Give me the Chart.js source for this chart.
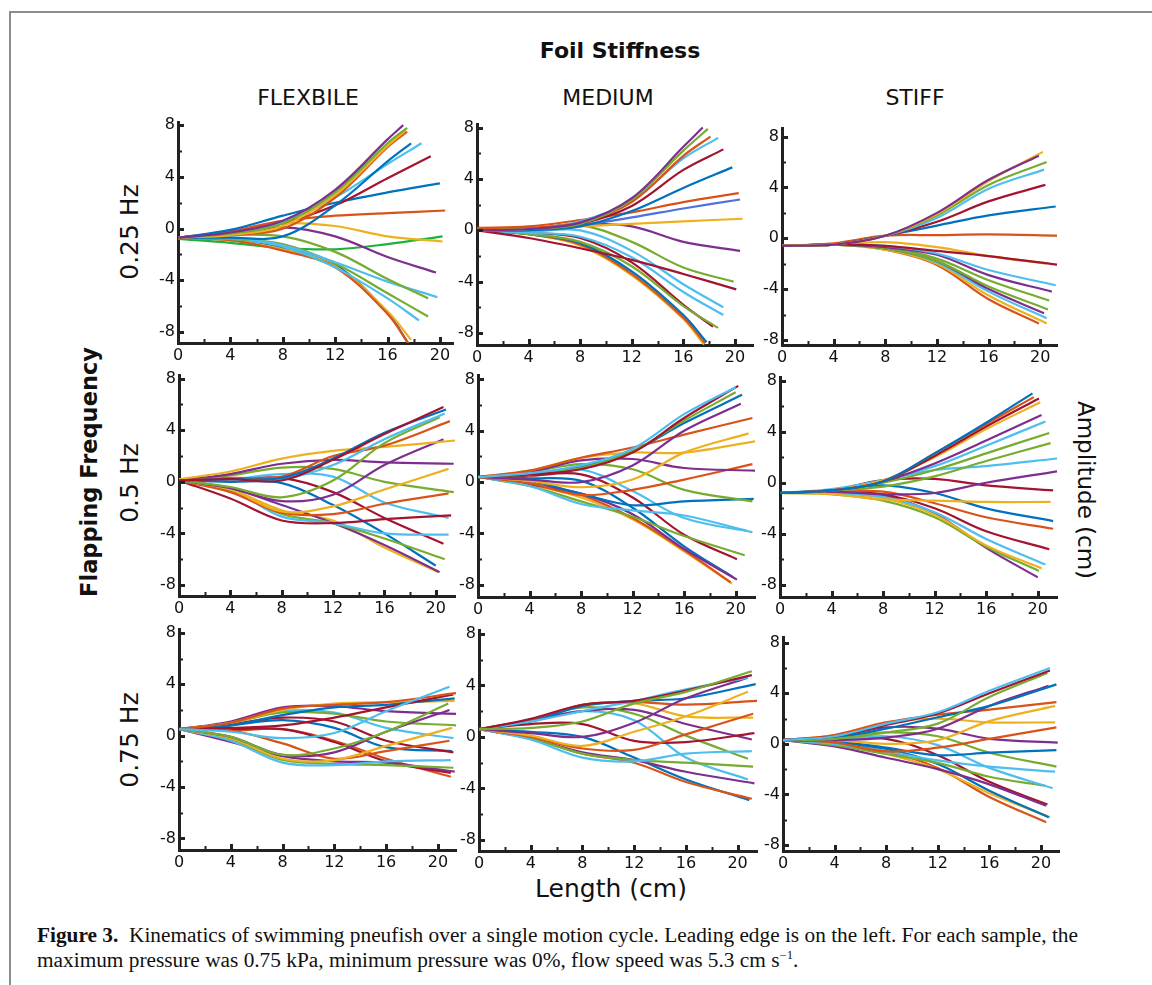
<!DOCTYPE html>
<html>
<head>
<meta charset="utf-8">
<title>Figure 3 - pneufish kinematics</title>
<script src="https://cdn.jsdelivr.net/npm/chart.js@4.4.1/dist/chart.umd.min.js"></script>
<style>
  html, body { margin: 0; padding: 0; background: #fff; }
  #page { position: relative; width: 1152px; height: 985px; overflow: hidden;
          font-family: "DejaVu Sans", Verdana, sans-serif; color: #111; }
  #frame { position: absolute; left: 9px; top: 11px; width: 1200px; height: 1000px;
           border-left: 2px solid #8c8c8c; border-top: 2px solid #8c8c8c; }
  .lbl { position: absolute; white-space: nowrap; }
  canvas { position: absolute; }
  .cap { position: absolute; left: 37px; font-family: "Liberation Serif", "Times New Roman", serif;
         font-size: 20px; white-space: nowrap; transform-origin: left center; color: #111; }
</style>
</head>
<body>
<div id="page">
  <div id="frame"></div>

  <div class="lbl" style="left:620px;top:50px;transform:translate(-50%,-50%);font-weight:bold;font-size:22px;">Foil Stiffness</div>
  <div class="lbl" style="left:308px;top:97px;transform:translate(-50%,-50%);font-size:22px;">FLEXBILE</div>
  <div class="lbl" style="left:608px;top:97px;transform:translate(-50%,-50%);font-size:22px;">MEDIUM</div>
  <div class="lbl" style="left:915px;top:97px;transform:translate(-50%,-50%);font-size:22px;">STIFF</div>

  <div class="lbl" style="left:89px;top:472px;transform:translate(-50%,-50%) rotate(-90deg);font-weight:bold;font-size:22.5px;">Flapping Frequency</div>
  <div class="lbl" style="left:129px;top:232px;transform:translate(-50%,-50%) rotate(-90deg);font-size:25px;">0.25 Hz</div>
  <div class="lbl" style="left:129px;top:483px;transform:translate(-50%,-50%) rotate(-90deg);font-size:25px;">0.5 Hz</div>
  <div class="lbl" style="left:129px;top:740px;transform:translate(-50%,-50%) rotate(-90deg);font-size:25px;">0.75 Hz</div>
  <div class="lbl" style="left:1086px;top:490px;transform:translate(-50%,-50%) rotate(90deg);font-size:23px;">Amplitude (cm)</div>
  <div class="lbl" style="left:611px;top:888px;transform:translate(-50%,-50%);font-size:25px;">Length (cm)</div>

  <canvas id="p11"></canvas><canvas id="p12"></canvas><canvas id="p13"></canvas>
  <canvas id="p21"></canvas><canvas id="p22"></canvas><canvas id="p23"></canvas>
  <canvas id="p31"></canvas><canvas id="p32"></canvas><canvas id="p33"></canvas>

  <div class="cap" id="cap1" style="top:924px;"><b>Figure 3.</b>&nbsp;&nbsp;Kinematics of swimming pneufish over a single motion cycle. Leading edge is on the left. For each sample, the</div>
  <div class="cap" id="cap2" style="top:948px;">maximum pressure was 0.75 kPa, minimum pressure was 0%, flow speed was 5.3 cm s<sup style="font-size:12px;">&minus;1</sup>.</div>
</div>

<script>
// x positions (cm) where each trace is sampled; each trace then ends at its own tip point
const lengthGrid = [0, 4, 8, 12, 16];
const xTicks = [0, 4, 8, 12, 16, 20];
const yTicks = [-8, -4, 0, 4, 8];

const lineColors = {
    blue: "#0072BD", orange: "#D95319", yellow: "#EDB120", purple: "#7E2F8E",
    green: "#77AC30", lightblue: "#4DBEEE", darkred: "#A2142F",
    brightgreen: "#1FB03A", royal: "#4F70E0"
};

// each row: colour, y at lengthGrid, tip x, tip y
const flexible025 = [
    ["purple", -0.7, -0.3, 0.6, 3.0, 6.9, 17.2, 8.0],
    ["green", -0.7, -0.4, 0.4, 2.8, 6.6, 17.5, 7.8],
    ["yellow", -0.7, -0.5, 0.2, 2.6, 6.4, 17.4, 7.6],
    ["orange", -0.7, -0.5, 0.0, 2.4, 6.3, 17.5, 7.5],
    ["blue", -0.7, -0.7, -0.6, 1.8, 5.2, 17.8, 6.6],
    ["lightblue", -0.7, -0.5, 0.5, 2.4, 5.0, 18.6, 6.6],
    ["darkred", -0.7, -0.4, 0.4, 1.8, 3.9, 19.3, 5.6],
    ["blue", -0.7, -0.1, 1.0, 2.0, 2.8, 20.0, 3.5],
    ["orange", -0.7, -0.2, 0.6, 1.0, 1.2, 20.4, 1.4],
    ["yellow", -0.7, -0.3, 0.4, 0.2, -0.6, 20.2, -1.0],
    ["purple", -0.7, -0.4, 0.1, -0.6, -2.2, 19.7, -3.4],
    ["green", -0.7, -0.5, -0.6, -1.8, -3.9, 19.1, -5.4],
    ["lightblue", -0.7, -0.7, -1.3, -2.6, -4.1, 19.8, -5.3],
    ["green", -0.7, -0.8, -1.2, -2.7, -5.0, 19.1, -6.8],
    ["lightblue", -0.7, -0.8, -1.4, -3.0, -5.4, 18.4, -7.1],
    ["orange", -0.7, -0.9, -1.7, -3.0, -6.6, 17.6, -8.9],
    ["yellow", -0.7, -0.9, -1.6, -2.9, -6.4, 17.8, -8.6],
    ["blue", -0.7, -0.9, -1.5, -2.8, -6.5, 17.6, -8.9],
    ["brightgreen", -0.8, -1.1, -1.5, -1.6, -1.2, 20.2, -0.6]
];

const medium025 = [
    ["purple", 0.0, 0.1, 0.6, 2.5, 6.5, 17.5, 8.0],
    ["green", 0.0, 0.1, 0.5, 2.4, 6.2, 17.9, 7.9],
    ["orange", 0.1, 0.2, 0.6, 2.2, 5.8, 18.1, 7.3],
    ["lightblue", 0.0, 0.1, 0.7, 2.3, 5.6, 18.7, 7.2],
    ["darkred", 0.0, 0.1, 0.5, 1.9, 4.7, 19.1, 6.3],
    ["blue", 0.0, 0.0, 0.3, 1.5, 3.3, 19.8, 4.9],
    ["orange", 0.2, 0.3, 0.8, 1.4, 2.2, 20.3, 2.9],
    ["royal", 0.0, 0.1, 0.4, 1.0, 1.7, 20.4, 2.4],
    ["yellow", 0.0, 0.1, 0.3, 0.5, 0.7, 20.6, 0.9],
    ["purple", 0.0, 0.1, 0.5, 0.3, -0.9, 20.4, -1.6],
    ["green", 0.0, 0.1, 0.4, -0.9, -2.9, 19.9, -4.0],
    ["darkred", 0.0, -0.6, -1.4, -2.3, -3.4, 20.1, -4.6],
    ["lightblue", 0.0, -0.1, 0.0, -1.6, -4.2, 19.1, -6.0],
    ["lightblue", 0.0, -0.2, -0.5, -2.1, -4.8, 19.1, -6.6],
    ["green", 0.0, -0.3, -0.9, -2.8, -5.9, 18.7, -7.6],
    ["darkred", 0.0, -0.2, -0.6, -2.5, -5.8, 18.3, -7.5],
    ["blue", 0.0, -0.3, -1.0, -3.2, -6.6, 17.8, -8.7],
    ["orange", 0.0, -0.3, -1.1, -3.4, -6.8, 17.7, -8.8],
    ["yellow", 0.0, -0.3, -1.2, -3.5, -6.9, 17.6, -8.9]
];

const stiff025 = [
    ["purple", -0.6, -0.5, 0.2, 2.0, 4.6, 19.9, 6.5],
    ["yellow", -0.6, -0.5, 0.2, 1.9, 4.5, 20.2, 6.8],
    ["green", -0.6, -0.5, 0.2, 1.8, 4.2, 20.5, 6.0],
    ["lightblue", -0.6, -0.5, 0.2, 1.6, 3.9, 20.3, 5.4],
    ["darkred", -0.6, -0.5, 0.2, 1.3, 2.9, 20.4, 4.2],
    ["blue", -0.6, -0.5, 0.2, 1.0, 1.8, 21.2, 2.5],
    ["orange", -0.6, -0.4, 0.2, 0.25, 0.3, 21.4, 0.2],
    ["darkred", -0.6, -0.5, -0.6, -1.0, -1.4, 21.5, -2.1],
    ["yellow", -0.6, -0.5, -0.3, -0.7, -1.4, 20.5, -2.0],
    ["lightblue", -0.6, -0.5, -0.6, -1.2, -2.5, 21.2, -3.7],
    ["purple", -0.6, -0.5, -0.7, -1.3, -2.9, 20.9, -4.2],
    ["green", -0.6, -0.5, -0.7, -1.6, -3.3, 20.7, -4.9],
    ["green", -0.6, -0.5, -0.8, -1.8, -3.8, 20.6, -5.6],
    ["purple", -0.6, -0.5, -0.8, -1.8, -4.0, 20.3, -5.9],
    ["lightblue", -0.6, -0.5, -0.8, -1.9, -4.2, 20.5, -6.3],
    ["yellow", -0.6, -0.5, -0.9, -2.0, -4.5, 20.5, -6.7],
    ["orange", -0.6, -0.5, -0.9, -2.1, -4.8, 19.9, -6.7]
];

const flexible05 = [
    ["darkred", 0.1, 0.2, 0.1, 1.7, 3.7, 20.6, 5.8],
    ["blue", 0.1, 0.2, 0.3, 1.8, 3.8, 20.8, 5.6],
    ["lightblue", 0.1, 0.2, 0.2, 1.3, 3.3, 20.7, 5.3],
    ["green", 0.1, -0.4, -1.2, 0.1, 3.0, 20.3, 5.0],
    ["orange", 0.1, 0.3, 0.4, 2.0, 2.8, 21.1, 4.7],
    ["yellow", 0.2, 0.8, 1.8, 2.4, 2.7, 21.5, 3.2],
    ["purple", 0.1, -0.5, -1.5, -1.0, 1.3, 20.6, 3.3],
    ["purple", 0.1, 0.6, 1.4, 1.7, 1.5, 21.4, 1.4],
    ["yellow", 0.1, -0.6, -2.3, -1.9, -0.6, 21.0, 1.0],
    ["green", 0.1, 0.5, 1.1, 1.0, 0.0, 21.4, -0.8],
    ["orange", 0.1, -0.8, -2.4, -2.5, -1.7, 21.0, -0.9],
    ["darkred", 0.1, -1.3, -3.0, -3.2, -2.9, 21.2, -2.6],
    ["lightblue", 0.1, 0.2, 0.6, 0.4, -1.6, 21.0, -2.8],
    ["lightblue", 0.1, -0.6, -2.7, -3.2, -4.0, 21.0, -4.1],
    ["darkred", 0.1, 0.2, 0.3, -0.8, -2.8, 20.6, -4.8],
    ["green", 0.1, -0.7, -2.5, -3.2, -4.4, 20.7, -6.0],
    ["blue", 0.1, 0.0, -0.1, -1.8, -4.0, 20.0, -6.5],
    ["purple", 0.1, -0.5, -1.8, -3.2, -4.9, 20.3, -7.0],
    ["yellow", 0.1, -0.6, -2.2, -3.0, -5.1, 20.2, -7.0]
];

const medium05 = [
    ["lightblue", 0.4, 0.7, 1.3, 2.6, 5.3, 20.0, 7.4],
    ["darkred", 0.4, 0.6, 1.0, 2.3, 5.0, 20.2, 7.5],
    ["green", 0.4, 0.6, 1.1, 2.4, 4.8, 20.0, 7.0],
    ["blue", 0.4, 0.6, 1.2, 2.4, 4.6, 20.5, 6.8],
    ["purple", 0.4, 0.2, 0.0, 1.3, 4.0, 20.4, 6.1],
    ["orange", 0.4, 0.9, 1.9, 2.7, 3.7, 21.3, 5.0],
    ["yellow", 0.4, 0.1, -0.4, 0.2, 2.3, 21.0, 3.8],
    ["yellow", 0.4, 0.9, 1.9, 2.3, 2.3, 21.6, 3.2],
    ["purple", 0.4, 0.8, 1.7, 1.8, 1.1, 21.5, 0.9],
    ["orange", 0.4, -0.1, -1.0, -0.6, 0.2, 21.3, 1.4],
    ["green", 0.4, 0.8, 1.4, 1.0, -0.6, 21.3, -1.5],
    ["blue", 0.4, 0.1, -0.9, -1.8, -1.5, 21.4, -1.3],
    ["lightblue", 0.4, 0.6, 1.0, -0.7, -2.8, 21.3, -3.9],
    ["lightblue", 0.4, -0.3, -1.7, -2.2, -2.6, 20.9, -3.8],
    ["green", 0.4, -0.3, -1.5, -2.7, -4.2, 20.7, -5.7],
    ["darkred", 0.4, 0.5, 0.6, -1.2, -4.1, 20.1, -6.0],
    ["purple", 0.4, -0.2, -0.9, -2.5, -5.2, 20.1, -7.6],
    ["blue", 0.4, 0.3, 0.1, -2.0, -5.0, 19.8, -7.4],
    ["orange", 0.4, -0.1, -1.0, -2.8, -5.3, 19.6, -7.8],
    ["yellow", 0.4, -0.2, -1.2, -2.9, -5.4, 19.7, -7.9]
];

const stiff05 = [
    ["blue", -0.8, -0.6, 0.1, 2.3, 4.7, 19.6, 7.0],
    ["orange", -0.8, -0.6, 0.1, 2.3, 4.6, 19.7, 6.7],
    ["darkred", -0.8, -0.6, 0.1, 2.1, 4.4, 20.1, 6.6],
    ["yellow", -0.8, -0.6, 0.2, 2.0, 4.2, 20.2, 6.3],
    ["purple", -0.8, -0.6, 0.1, 1.5, 3.3, 20.3, 5.3],
    ["lightblue", -0.8, -0.6, 0.2, 1.3, 2.9, 20.6, 4.8],
    ["green", -0.8, -0.6, 0.0, 1.0, 2.3, 20.9, 3.9],
    ["green", -0.8, -0.6, -0.3, 0.5, 1.7, 21.0, 3.1],
    ["lightblue", -0.8, -0.5, 0.2, 1.0, 1.3, 21.5, 1.9],
    ["purple", -0.8, -0.7, -0.9, -0.8, 0.0, 21.5, 0.9],
    ["darkred", -0.8, -0.6, 0.2, 0.3, -0.2, 21.2, -0.6],
    ["yellow", -0.8, -0.9, -1.3, -1.4, -1.5, 21.0, -1.5],
    ["blue", -0.8, -0.6, -0.2, -0.8, -2.0, 21.2, -3.0],
    ["orange", -0.8, -0.7, -0.7, -1.6, -2.7, 21.2, -3.6],
    ["darkred", -0.8, -0.7, -0.9, -2.0, -3.8, 20.9, -5.2],
    ["lightblue", -0.8, -0.8, -1.1, -2.3, -4.4, 20.6, -6.4],
    ["yellow", -0.8, -0.8, -1.2, -2.5, -4.9, 20.3, -6.7],
    ["green", -0.8, -0.9, -1.4, -2.7, -5.0, 20.1, -6.9],
    ["purple", -0.8, -0.8, -1.0, -2.4, -5.1, 20.0, -7.4]
];

const flexible075 = [
    ["lightblue", 0.5, 0.3, -0.2, 0.2, 1.9, 20.9, 3.8],
    ["orange", 0.5, 1.0, 2.1, 2.4, 2.6, 21.4, 3.3],
    ["darkred", 0.5, 0.6, 0.8, 1.4, 2.2, 21.2, 3.2],
    ["blue", 0.5, 0.8, 1.6, 2.2, 2.4, 21.3, 2.9],
    ["yellow", 0.5, 1.0, 2.0, 2.5, 2.6, 21.3, 2.7],
    ["green", 0.5, -0.1, -1.5, -1.0, 0.3, 20.8, 2.5],
    ["purple", 0.5, -0.1, -1.5, -1.3, 0.3, 20.9, 2.0],
    ["purple", 0.5, 1.1, 2.2, 2.3, 1.9, 21.4, 1.7],
    ["green", 0.5, 1.0, 1.8, 1.7, 1.1, 21.4, 0.8],
    ["yellow", 0.5, -0.2, -1.8, -1.9, -0.8, 21.1, 0.6],
    ["lightblue", 0.5, 1.0, 1.9, 1.8, 0.6, 21.2, -0.2],
    ["orange", 0.5, 0.4, -0.6, -1.8, -1.2, 20.9, -0.4],
    ["darkred", 0.5, 0.9, 1.4, 1.1, -0.4, 21.2, -1.3],
    ["blue", 0.5, 0.8, 1.2, 0.6, -0.9, 21.1, -1.2],
    ["lightblue", 0.5, -0.4, -2.1, -2.3, -2.0, 21.0, -1.9],
    ["green", 0.5, -0.3, -1.9, -2.2, -2.3, 21.2, -2.5],
    ["purple", 0.5, -0.5, -1.6, -2.0, -2.1, 21.3, -2.8],
    ["darkred", 0.5, 0.5, 0.5, -0.5, -2.0, 21.0, -2.9],
    ["orange", 0.5, 0.4, 0.5, -0.4, -1.8, 21.0, -3.2]
];

const medium075 = [
    ["green", 0.6, 0.7, 1.2, 2.6, 3.5, 21.1, 5.1],
    ["darkred", 0.6, 1.4, 2.5, 2.8, 3.6, 21.1, 4.8],
    ["lightblue", 0.6, 1.2, 2.0, 2.8, 3.7, 20.8, 4.6],
    ["purple", 0.6, 0.3, 0.0, 1.1, 3.0, 20.8, 4.6],
    ["blue", 0.6, 1.2, 2.4, 2.8, 3.0, 21.4, 4.1],
    ["yellow", 0.6, 0.1, -0.7, 0.4, 1.6, 20.8, 3.5],
    ["orange", 0.6, 1.3, 2.5, 2.7, 2.5, 21.5, 2.8],
    ["orange", 0.6, 0.0, -0.9, -1.0, 0.2, 21.2, 1.8],
    ["yellow", 0.6, 1.3, 2.5, 2.6, 1.6, 21.2, 1.5],
    ["darkred", 0.6, 1.0, 1.0, -0.3, -0.4, 21.3, 0.3],
    ["purple", 0.6, 1.3, 2.0, 2.1, 1.0, 21.1, -0.2],
    ["lightblue", 0.6, -0.2, -1.6, -1.9, -1.3, 21.1, -1.1],
    ["green", 0.6, 1.3, 2.3, 1.8, 0.1, 20.8, -1.7],
    ["green", 0.6, -0.1, -1.3, -1.8, -2.0, 21.2, -2.3],
    ["lightblue", 0.6, 1.2, 2.0, 1.3, -1.6, 20.8, -3.3],
    ["purple", 0.6, -0.1, -1.2, -1.8, -2.7, 21.3, -3.6],
    ["orange", 0.6, -0.1, -1.3, -2.0, -3.5, 21.1, -4.8],
    ["blue", 0.6, 0.4, 0.0, -1.6, -3.3, 20.9, -4.9]
];

const stiff075 = [
    ["lightblue", 0.3, 0.6, 1.6, 2.5, 4.2, 20.7, 6.0],
    ["darkred", 0.3, 0.6, 1.5, 2.4, 4.0, 20.7, 5.8],
    ["green", 0.3, 0.4, 0.9, 1.6, 3.7, 20.5, 5.6],
    ["blue", 0.3, 0.5, 1.2, 2.1, 3.0, 21.2, 4.7],
    ["purple", 0.3, 0.3, 0.5, 1.2, 3.0, 20.6, 4.6],
    ["orange", 0.3, 0.7, 1.7, 2.3, 2.7, 21.2, 3.3],
    ["yellow", 0.3, 0.3, 0.0, 0.3, 1.8, 21.1, 3.0],
    ["yellow", 0.3, 0.7, 1.7, 2.0, 1.7, 21.1, 1.7],
    ["orange", 0.3, 0.1, -0.6, -0.3, 0.4, 21.2, 1.3],
    ["purple", 0.3, 0.6, 1.3, 1.2, 0.4, 21.3, 0.1],
    ["blue", 0.3, 0.2, -0.3, -0.9, -0.7, 21.2, -0.5],
    ["green", 0.3, 0.5, 0.9, 0.6, -0.7, 21.2, -1.8],
    ["lightblue", 0.3, 0.0, -0.6, -1.3, -1.8, 21.1, -2.2],
    ["lightblue", 0.3, 0.3, 0.6, -0.1, -1.9, 20.9, -3.5],
    ["green", 0.3, -0.1, -0.8, -1.5, -2.6, 20.3, -3.3],
    ["purple", 0.3, -0.2, -1.1, -2.0, -3.2, 20.4, -4.9],
    ["darkred", 0.3, 0.3, 0.4, -0.9, -3.0, 20.5, -4.8],
    ["blue", 0.3, 0.1, -0.4, -1.6, -3.7, 20.6, -5.8],
    ["yellow", 0.3, 0.0, -0.8, -2.0, -3.9, 20.7, -5.8],
    ["orange", 0.3, 0.0, -0.6, -1.9, -4.2, 20.4, -6.2]
];

// space reserved around each plot area inside its canvas
const PAD_LEFT = 44, PAD_BOTTOM = 30, PAD_TOP = 12, PAD_RIGHT = 12;

// plot-area rectangles on the page [left, top, right, bottom] and axis ranges
const panels = [
    { id: "p11", rows: flexible025, area: [178, 122, 453, 343], xMax: 21.0, yMin: -8.85, yMax: 8.2 },
    { id: "p12", rows: medium025,   area: [477, 124, 753, 345], xMax: 21.4, yMin: -8.93, yMax: 8.23 },
    { id: "p13", rows: stiff025,    area: [782, 128, 1057, 345], xMax: 21.3, yMin: -8.4, yMax: 8.63 },
    { id: "p21", rows: flexible05,  area: [179, 375, 455, 596], xMax: 21.5, yMin: -8.85, yMax: 8.23 },
    { id: "p22", rows: medium05,    area: [478, 375, 755, 597], xMax: 21.5, yMin: -8.95, yMax: 8.3 },
    { id: "p23", rows: stiff05,     area: [780, 377, 1057, 597], xMax: 21.5, yMin: -8.94, yMax: 8.23 },
    { id: "p31", rows: flexible075, area: [179, 629, 456, 850], xMax: 21.4, yMin: -8.9, yMax: 8.25 },
    { id: "p32", rows: medium075,   area: [479, 630, 757, 851], xMax: 21.5, yMin: -8.85, yMax: 8.25 },
    { id: "p33", rows: stiff075,    area: [783, 637, 1059, 851], xMax: 21.4, yMin: -8.47, yMax: 8.4 }
];

// inward tick marks, like the original axes (major every 4, minor every 2)
const innerTicks = {
    id: "innerTicks",
    afterDraw(chart) {
        const ctx = chart.ctx;
        const area = chart.chartArea;
        const xs = chart.scales.x, ys = chart.scales.y;
        ctx.save();
        ctx.strokeStyle = "#222";
        xs.ticks.forEach(t => {
            const major = xTicks.includes(t.value);
            const px = Math.round(xs.getPixelForValue(t.value)) + 0.5;
            ctx.lineWidth = major ? 3 : 2;
            ctx.beginPath();
            ctx.moveTo(px, area.bottom);
            ctx.lineTo(px, area.bottom - (major ? 6 : 4));
            ctx.stroke();
        });
        ys.ticks.forEach(t => {
            const major = yTicks.includes(t.value);
            const py = Math.round(ys.getPixelForValue(t.value)) + 0.5;
            ctx.lineWidth = major ? 3 : 2;
            ctx.beginPath();
            ctx.moveTo(area.left, py);
            ctx.lineTo(area.left + (major ? 6 : 4), py);
            ctx.stroke();
        });
        ctx.restore();
    }
};

function toDataset(row) {
    const color = lineColors[row[0]];
    const pts = lengthGrid.map((x, i) => ({ x: x, y: row[i + 1] }));
    pts.push({ x: row[6], y: row[7] });
    return {
        data: pts,
        borderColor: color,
        borderWidth: 2.2,
        pointRadius: 0,
        fill: false,
        tension: 0.35
    };
}

function buildPanel(p) {
    const [l, t, r, b] = p.area;
    const cv = document.getElementById(p.id);
    cv.width = (r - l) + PAD_LEFT + PAD_RIGHT;
    cv.height = (b - t) + PAD_TOP + PAD_BOTTOM;
    cv.style.left = (l - PAD_LEFT) + "px";
    cv.style.top = (t - PAD_TOP) + "px";

    const tickFont = { family: "'DejaVu Sans', Verdana, sans-serif", size: 16 };

    new Chart(cv, {
        type: "line",
        data: { datasets: p.rows.map(toDataset) },
        options: {
            responsive: false,
            animation: false,
            devicePixelRatio: 1,
            layout: { padding: { top: PAD_TOP, right: PAD_RIGHT, left: 0, bottom: 0 } },
            plugins: { legend: { display: false }, tooltip: { enabled: false } },
            scales: {
                x: {
                    type: "linear",
                    min: 0,
                    max: p.xMax,
                    afterFit(scale) { scale.height = PAD_BOTTOM; },
                    grid: { display: false, drawTicks: false },
                    border: { display: true, color: "#222", width: 3 },
                    ticks: {
                        stepSize: 2,
                        includeBounds: false,
                        autoSkip: false,
                        maxRotation: 0,
                        padding: 3,
                        color: "#111",
                        font: tickFont,
                        callback: v => xTicks.includes(v) ? String(v) : ""
                    }
                },
                y: {
                    min: p.yMin,
                    max: p.yMax,
                    afterFit(scale) { scale.width = PAD_LEFT; },
                    grid: { display: false, drawTicks: false },
                    border: { display: true, color: "#222", width: 3 },
                    ticks: {
                        stepSize: 2,
                        includeBounds: false,
                        autoSkip: false,
                        padding: 3,
                        color: "#111",
                        font: tickFont,
                        callback: v => yTicks.includes(v) ? String(v) : ""
                    }
                }
            }
        },
        plugins: [innerTicks]
    });
}

panels.forEach(buildPanel);

// squeeze the caption to the width of the printed one
const cap1 = document.getElementById("cap1");
const cap2 = document.getElementById("cap2");
const s = 1041 / cap1.getBoundingClientRect().width;
cap1.style.transform = "scaleX(" + s + ")";
cap2.style.transform = "scaleX(" + s + ")";
</script>
</body>
</html>
